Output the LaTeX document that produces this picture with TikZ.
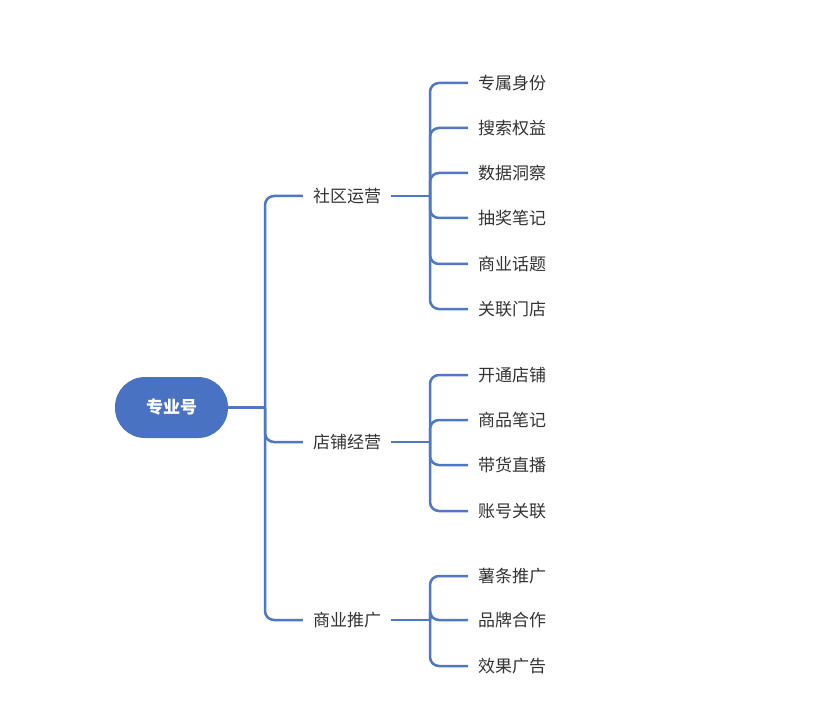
\documentclass[tikz,border=0pt]{standalone}
\usepackage{fontspec}
\setmainfont{Noto Sans CJK SC}
\definecolor{rootblue}{HTML}{4A72C2}
\definecolor{lineblue}{HTML}{5077C2}
\definecolor{txt}{HTML}{333333}
\begin{document}
\begin{tikzpicture}[x=1pt,y=1pt,
  conn/.style={draw=lineblue,line width=2.5pt,rounded corners=9pt},
  rootnode/.style={fill=rootblue,rounded corners=30pt,minimum width=113pt,minimum height=61pt,text=white,font=\fontsize{17}{20}\selectfont\bfseries},
  branch/.style={inner xsep=10pt,inner ysep=2pt,text=txt,font=\fontsize{17}{20}\selectfont},
  leaf/.style={anchor=west,inner xsep=10pt,inner ysep=2pt,text=txt,font=\fontsize{17}{20}\selectfont}]
\useasboundingbox (0,0) rectangle (827,-719);
\fill[white] (0,0) rectangle (827,-719);
\node[rootnode] (root) at (171.5,-407.5) {专业号};
\node[branch] (b1) at (347,-196) {社区运营};
\node[branch] (b2) at (347,-442) {店铺经营};
\node[branch] (b3) at (347,-620) {商业推广};
\coordinate (t) at (265,-407.5);
\coordinate (s1) at (430,-196);
\coordinate (s2) at (430,-442);
\coordinate (s3) at (430,-620);
% group 1
\node[leaf] (l11) at (468,-83) {专属身份};
\node[leaf] (l12) at (468,-128) {搜索权益};
\node[leaf] (l13) at (468,-173) {数据洞察};
\node[leaf] (l14) at (468,-218) {抽奖笔记};
\node[leaf] (l15) at (468,-264) {商业话题};
\node[leaf] (l16) at (468,-309) {关联门店};
% group 2
\node[leaf] (l21) at (468,-375) {开通店铺};
\node[leaf] (l22) at (468,-420) {商品笔记};
\node[leaf] (l23) at (468,-465) {带货直播};
\node[leaf] (l24) at (468,-511) {账号关联};
% group 3
\node[leaf] (l31) at (468,-576) {薯条推广};
\node[leaf] (l32) at (468,-620) {品牌合作};
\node[leaf] (l33) at (468,-666) {效果广告};
% root connectors
\draw[conn] (root.east) -- (t);
\draw[conn] (b1.west) -| (t) |- (b3.west);
\draw[conn] (t) |- (b2.west);
% group connectors
\draw[conn] (b1.east) -- (s1);
\draw[conn] (b2.east) -- (s2);
\draw[conn] (b3.east) -- (s3);
\foreach \l in {l11,l12,l13,l14,l15,l16} \draw[conn] (s1) |- (\l.west);
\foreach \l in {l21,l22,l23,l24} \draw[conn] (s2) |- (\l.west);
\foreach \l in {l31,l32,l33} \draw[conn] (s3) |- (\l.west);
\end{tikzpicture}
\end{document}
